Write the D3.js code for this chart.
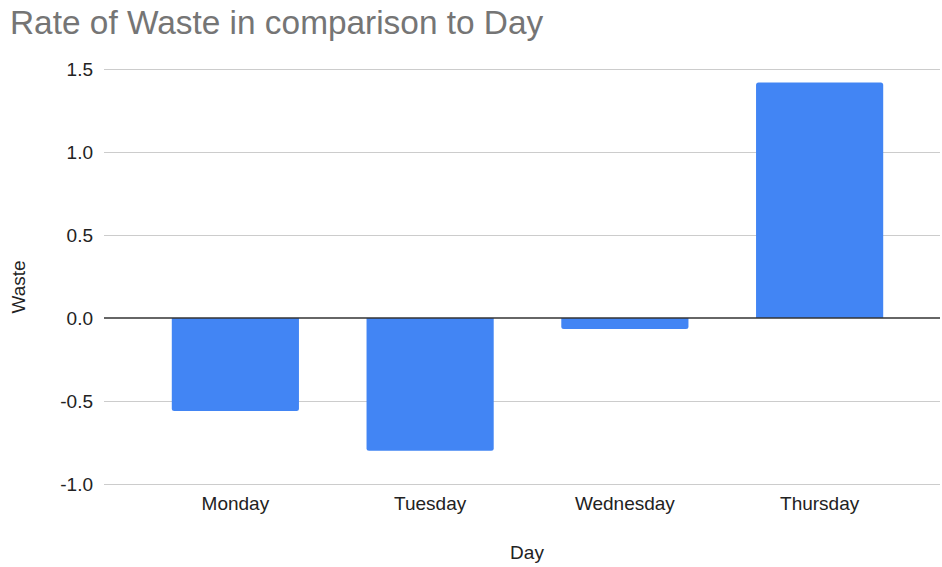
<!DOCTYPE html>
<html>
<head>
<meta charset="utf-8">
<script src="https://cdn.jsdelivr.net/npm/d3@7"></script>
<style>
  html, body { margin: 0; padding: 0; background: #fff; }
  svg { display: block; }
  svg text { font-family: "Liberation Sans", Arial, sans-serif; }
</style>
</head>
<body>
<svg id="chart" width="942" height="567"></svg>
<script>
// Waste rate by day of week
const days = ["Monday", "Tuesday", "Wednesday", "Thursday"];
const waste = [-0.56, -0.80, -0.066, 1.42];
const yTicks = [-1.0, -0.5, 0.0, 0.5, 1.0, 1.5];

const svg = d3.select("#chart");
const FONT = "Liberation Sans, Arial, sans-serif";
const LABEL_SIZE = 19;
const gridLeft = 104, gridRight = 940;
const y = d3.scaleLinear().domain([-1.0, 1.5]).range([484, 69.3]);
const x = d3.scaleBand().domain(days).range([138, 917]).paddingInner(0.347).paddingOuter(0.1735);
const fmt = d => d3.format(".1f")(d).replace("\u2212", "-");

// title
svg.append("text")
  .attr("x", 10).attr("y", 34)
  .attr("font-size", 33.4)
  .attr("fill", "#757575")
  .text("Rate of Waste in comparison to Day");

// horizontal gridlines
svg.append("g").selectAll("line")
  .data(yTicks.filter(d => d !== 0))
  .join("line")
  .attr("x1", gridLeft).attr("x2", gridRight)
  .attr("y1", d => Math.round(y(d)) + 0.5).attr("y2", d => Math.round(y(d)) + 0.5)
  .attr("stroke", "#cccccc").attr("stroke-width", 1);

// y tick labels
svg.append("g").selectAll("text")
  .data(yTicks)
  .join("text")
  .attr("x", 93).attr("y", d => y(d))
  .attr("dy", "0.35em")
  .attr("text-anchor", "end")
  .attr("font-size", LABEL_SIZE)
  .attr("fill", "#222")
  .text(fmt);

// bars with slightly rounded corners at the far end
const r = 2.5;
function barPath(d) {
  const x0 = x(d.day), w = x.bandwidth();
  const y0 = y(0), y1 = y(d.v);
  if (d.v >= 0) {
    return `M${x0},${y0}V${y1 + r}Q${x0},${y1} ${x0 + r},${y1}H${x0 + w - r}Q${x0 + w},${y1} ${x0 + w},${y1 + r}V${y0}Z`;
  }
  return `M${x0},${y0}V${y1 - r}Q${x0},${y1} ${x0 + r},${y1}H${x0 + w - r}Q${x0 + w},${y1} ${x0 + w},${y1 - r}V${y0}Z`;
}
svg.append("g").selectAll("path")
  .data(days.map((day, i) => ({ day, v: waste[i] })))
  .join("path")
  .attr("d", barPath)
  .attr("fill", "#4285f4");

// zero baseline
svg.append("line")
  .attr("x1", gridLeft).attr("x2", gridRight)
  .attr("y1", y(0)).attr("y2", y(0))
  .attr("stroke", "#333").attr("stroke-width", 1.5);

// category labels
const xAxis = d3.axisBottom(x).tickSize(0).tickPadding(0);
const gx = svg.append("g").attr("transform", "translate(0,496)").call(xAxis)
  .attr("font-family", FONT).attr("font-size", LABEL_SIZE);
gx.select(".domain").remove();
gx.selectAll("text").attr("fill", "#222");

// axis titles
svg.append("text")
  .attr("x", 527).attr("y", 559)
  .attr("text-anchor", "middle")
  .attr("font-size", LABEL_SIZE).attr("fill", "#222")
  .text("Day");

svg.append("text")
  .attr("transform", "translate(25,287) rotate(-90)")
  .attr("text-anchor", "middle")
  .attr("font-size", LABEL_SIZE).attr("fill", "#222")
  .text("Waste");
</script>
</body>
</html>
